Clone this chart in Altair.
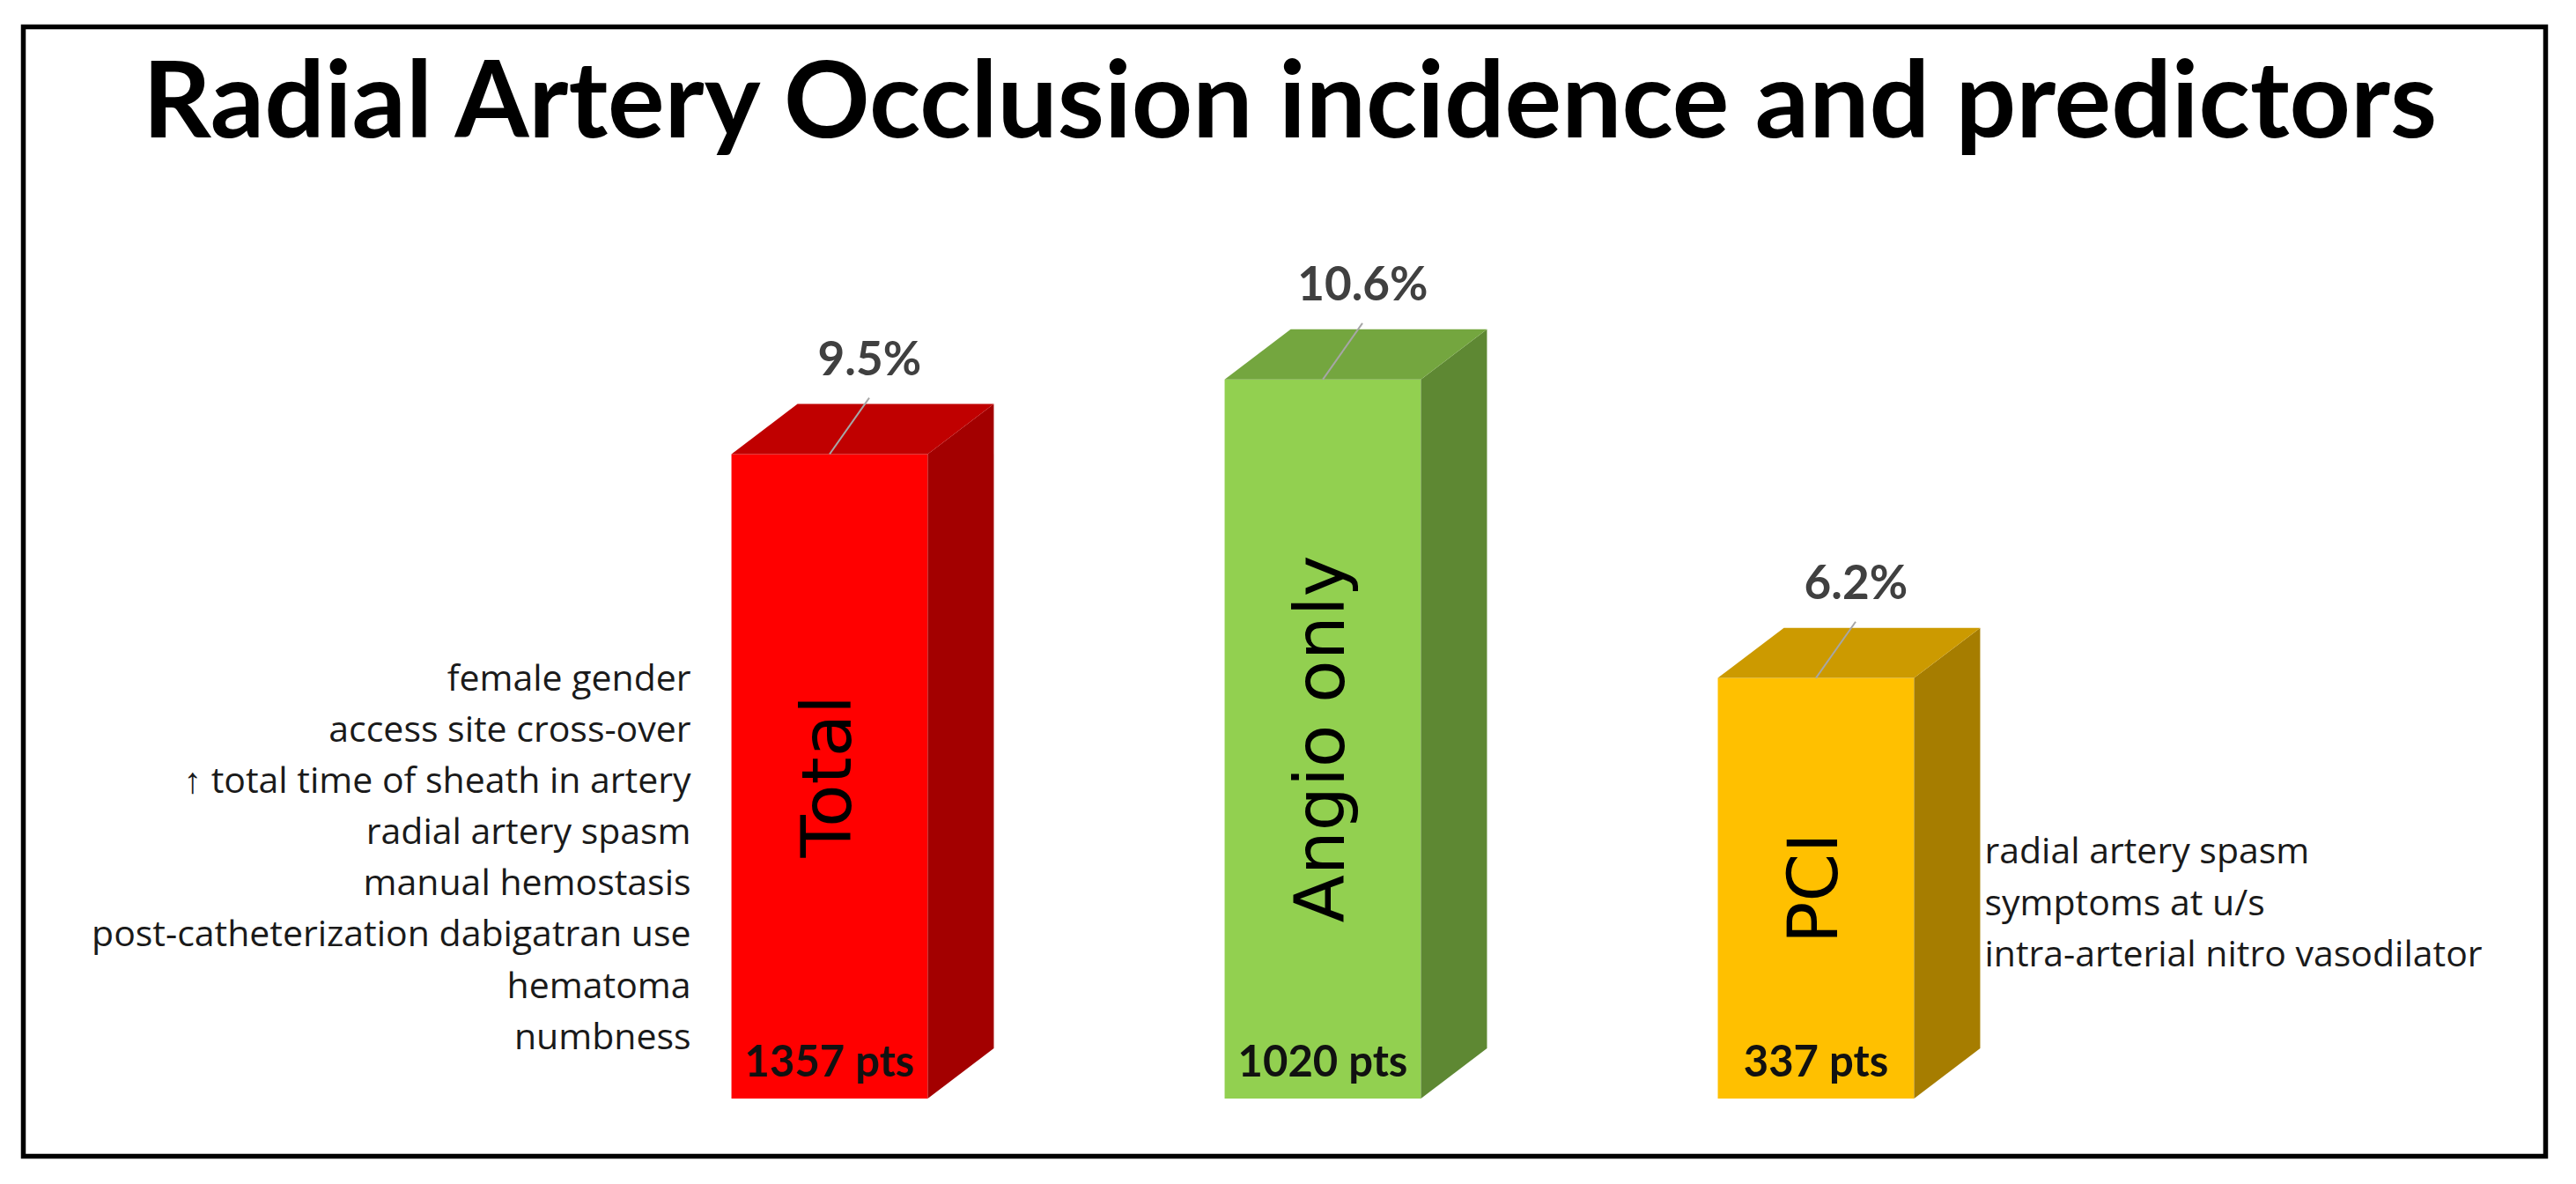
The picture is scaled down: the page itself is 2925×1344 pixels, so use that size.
import altair as alt
import pandas as pd

# ---------------- data ----------------
categories = ["Total", "Angio only", "PCI"]
rates = [9.5, 10.6, 6.2]            # radial artery occlusion incidence (%)
patients = [1357, 1020, 337]
front_colors = ["#FF0000", "#92D050", "#FFC000"]
top_colors = ["#C00000", "#74A63F", "#CC9A00"]
side_colors = ["#A30000", "#5E8833", "#A67D00"]
predictors_total = [
    "female gender",
    "access site cross-over",
    "\u2191 total time of sheath in artery",
    "radial artery spasm",
    "manual hemostasis",
    "post-catheterization dabigatran use",
    "hematoma",
    "numbness",
]
predictors_pci = [
    "radial artery spasm",
    "symptoms at u/s",
    "intra-arterial nitro vasodilator",
]
title_text = "Radial Artery Occlusion incidence and predictors"

# ---------------- style / geometry ----------------
HW = 0.199      # half width of bar front (category units)
DX = 0.134      # 3-D depth, horizontal (category units)
DY = 0.74       # 3-D depth, vertical (percentage units)
W, H = 2864, 1282
X_DOMAIN = [-1.6348, 3.4795]
Y_DOMAIN = [-0.8506, 15.799]

xs = alt.Scale(domain=X_DOMAIN, nice=False, zero=False)
ys = alt.Scale(domain=Y_DOMAIN, nice=False, zero=False)

pos = list(range(len(categories)))
bars = pd.DataFrame({
    "cat": categories,
    "pos": pos,
    "rate": rates,
    "n": patients,
    "front": front_colors,
})
bars["left"] = bars["pos"] - HW
bars["right"] = bars["pos"] + HW
bars["zero"] = 0.0
bars["mid"] = bars["rate"] / 2
bars["ptop"] = bars["rate"] + DY
bars["px"] = bars["pos"] + DX / 2 + 0.014
bars["lx"] = bars["pos"] + 0.6 * DX
bars["ly"] = bars["rate"] + DY + 0.09
bars["pct"] = [f"{r}%" for r in rates]
bars["pts"] = [f"{n} pts" for n in patients]

side_rows, top_rows = [], []
for c, p, r, sc, tc in zip(categories, pos, rates, side_colors, top_colors):
    side_rows.append({"cat": c, "x": p + HW, "ylo": 0.0, "yhi": r, "fill": sc})
    side_rows.append({"cat": c, "x": p + HW + DX, "ylo": DY, "yhi": r + DY, "fill": sc})
    top_rows.append({"cat": c, "y": r, "xl": p - HW, "xr": p + HW, "fill": tc})
    top_rows.append({"cat": c, "y": r + DY, "xl": p - HW + DX, "xr": p + HW + DX, "fill": tc})
side = pd.DataFrame(side_rows)
top = pd.DataFrame(top_rows)

base = alt.Chart(bars)

front_layer = base.mark_rect().encode(
    x=alt.X("left:Q", scale=xs, axis=None),
    x2="right:Q",
    y=alt.Y("zero:Q", scale=ys, axis=None),
    y2="rate:Q",
    color=alt.Color("front:N", scale=None),
)

side_layer = alt.Chart(side).mark_area(orient="vertical").encode(
    x=alt.X("x:Q", scale=xs, axis=None),
    y=alt.Y("yhi:Q", scale=ys, axis=None),
    y2="ylo:Q",
    color=alt.Color("fill:N", scale=None),
    detail="cat:N",
)

top_layer = alt.Chart(top).mark_area(orient="horizontal").encode(
    y=alt.Y("y:Q", scale=ys, axis=None),
    x=alt.X("xl:Q", scale=xs, axis=None),
    x2="xr:Q",
    color=alt.Color("fill:N", scale=None),
    detail="cat:N",
)

leader = base.mark_rule(color="#A6A6A6", strokeWidth=2).encode(
    x=alt.X("pos:Q", scale=xs, axis=None),
    y=alt.Y("rate:Q", scale=ys, axis=None),
    x2="lx:Q",
    y2="ly:Q",
)

pct_text = base.mark_text(
    font="Lato", fontWeight="bold", fontSize=53, color="#404040",
    baseline="middle", align="center", dy=-49,
).encode(
    x=alt.X("px:Q", scale=xs, axis=None),
    y=alt.Y("ptop:Q", scale=ys, axis=None),
    text="pct:N",
)

name_text = base.mark_text(
    font="DejaVu Sans", fontSize=79, color="#000000",
    angle=270, align="center", baseline="middle",
).encode(
    x=alt.X("pos:Q", scale=xs, axis=None),
    y=alt.Y("mid:Q", scale=ys, axis=None),
    text="cat:N",
)

pts_text = base.mark_text(
    font="Lato", fontWeight="bold", fontSize=49, color="#111111",
    baseline="alphabetic", align="center", dy=-25,
).encode(
    x=alt.X("pos:Q", scale=xs, axis=None),
    y=alt.Y("zero:Q", scale=ys, axis=None),
    text="pts:N",
)

# anchors of the predictor lists (first line)
left_anchor = pd.DataFrame({"x": [pos[0] - HW], "y": [6.17]})
right_anchor = pd.DataFrame({"x": [pos[2] + HW + DX], "y": [3.62]})

left_pred = alt.Chart(left_anchor).mark_text(
    text=predictors_total, font="Open Sans", fontSize=41, color="#1a1a1a",
    align="right", baseline="middle", lineHeight=58.1, dx=-46,
).encode(
    x=alt.X("x:Q", scale=xs, axis=None),
    y=alt.Y("y:Q", scale=ys, axis=None),
)

right_pred = alt.Chart(right_anchor).mark_text(
    text=predictors_pci, font="Open Sans", fontSize=41, color="#1a1a1a",
    align="left", baseline="middle", lineHeight=58.5, dx=5,
).encode(
    x=alt.X("x:Q", scale=xs, axis=None),
    y=alt.Y("y:Q", scale=ys, axis=None),
)

title_layer = alt.Chart(pd.DataFrame({"t": [title_text]})).mark_text(
    font="Lato", fontWeight="bold", fontSize=121, color="#000000",
    align="center", baseline="alphabetic",
).encode(
    x=alt.value(W / 2 + 6),
    y=alt.value(125),
    text="t:N",
)

chart = alt.layer(
    front_layer, side_layer, top_layer, leader,
    pct_text, name_text, pts_text, left_pred, right_pred, title_layer,
).properties(
    width=W,
    height=H,
    autosize=alt.AutoSizeParams(type="none"),
    padding={"left": 18.5, "top": 22.5, "right": 20, "bottom": 20},
    background="white",
).configure_view(
    stroke="#000000",
    strokeWidth=5.5,
)

chart.save("out.html", embed_options={"renderer": "svg", "actions": False})
